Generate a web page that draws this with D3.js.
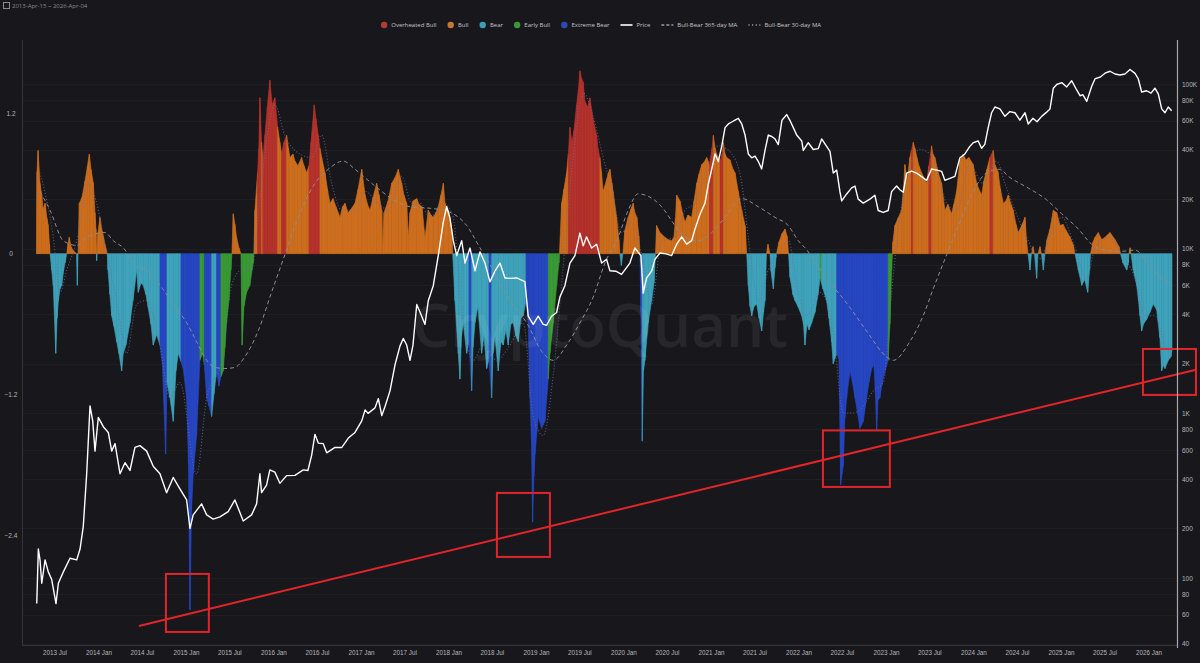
<!DOCTYPE html>
<html><head><meta charset="utf-8">
<script src="https://cdn.jsdelivr.net/npm/d3@7"></script>
<style>
html,body{margin:0;padding:0;background:#18181c;}
svg{display:block;font-family:"Open Sans","Noto Sans",sans-serif;}
</style></head><body>
<svg id="chart" width="1200" height="663"></svg>
<script>
// ---------- DATA ----------
const dateRangeLabel = "2013-Apr-15 ~ 2026-Apr-04";
const regimes = [
  {code:"O", name:"Overheated Bull"},
  {code:"B", name:"Bull"},
  {code:"R", name:"Bear"},
  {code:"E", name:"Early Bull"},
  {code:"X", name:"Extreme Bear"}
];
const lineSeriesNames = ["Price","Bull-Bear 365-day MA","Bull-Bear 30-day MA"];
const leftTicks = [1.2, 0, -1.2, -2.4];
const rightTicks = [100000,80000,60000,40000,20000,10000,8000,6000,4000,2000,1000,800,600,400,200,100,80,60,40];

// Bull-Bear index: [decimal year, value, regime]
const bullBearIndex = [
[2013.291,0,"B"],[2013.297,0.70,"B"],[2013.309,0.88,"B"],[2013.331,0.60,"B"],[2013.351,0.50,"B"],[2013.366,0.38,"B"],[2013.389,0.43,"B"],[2013.411,0.30,"B"],[2013.423,0.25,"B"],[2013.440,0.08,"B"],[2013.446,0,"B"],
[2013.465,-0.14,"R"],[2013.483,-0.27,"R"],[2013.511,-0.85,"R"],[2013.526,-0.55,"R"],[2013.541,-0.40,"R"],[2013.560,-0.30,"R"],[2013.579,-0.27,"R"],[2013.600,-0.15,"R"],[2013.617,-0.08,"R"],[2013.637,0,"R"],
[2013.651,0.08,"B"],[2013.666,0.14,"B"],[2013.686,0.06,"B"],[2013.709,0.03,"B"],[2013.749,0,"B"],
[2013.758,-0.27,"R"],[2013.766,0,"R"],
[2013.781,0.43,"B"],[2013.811,0.48,"B"],[2013.846,0.62,"B"],[2013.874,0.75,"B"],[2013.895,0.85,"B"],[2013.914,0.72,"B"],[2013.941,0.60,"B"],[2013.960,0.35,"B"],[2013.971,0.21,"B"],[2013.977,0,"B"],
[2013.979,-0.06,"R"],[2013.983,0,"R"],
[2013.994,0.18,"B"],[2014.017,0.31,"B"],[2014.034,0.22,"B"],[2014.055,0.15,"B"],[2014.074,0.08,"B"],[2014.101,0,"B"],
[2014.109,-0.14,"R"],[2014.131,-0.35,"R"],[2014.151,-0.53,"R"],[2014.177,-0.62,"R"],[2014.208,-0.75,"R"],[2014.234,-0.85,"R"],[2014.265,-1.00,"R"],[2014.283,-0.85,"R"],[2014.314,-0.78,"R"],[2014.360,-0.59,"R"],[2014.394,-0.40,"R"],[2014.437,-0.14,"R"],[2014.455,-0.33,"R"],[2014.486,-0.25,"R"],[2014.512,-0.27,"R"],[2014.543,-0.35,"R"],[2014.569,-0.46,"R"],[2014.600,-0.60,"R"],[2014.626,-0.78,"R"],[2014.665,-0.69,"R"],[2014.703,-0.78,"R"],
[2014.731,-0.95,"X"],[2014.768,-1.71,"X"],[2014.783,-1.10,"X"],
[2014.817,-1.23,"R"],[2014.855,-1.43,"R"],[2014.886,-1.00,"R"],[2014.912,-0.85,"R"],[2014.943,-0.92,"R"],
[2014.969,-0.98,"X"],[2015.008,-1.23,"X"],[2015.029,-1.80,"X"],[2015.046,-3.04,"X"],[2015.063,-2.20,"X"],[2015.083,-1.88,"X"],[2015.122,-1.55,"X"],[2015.160,-0.91,"X"],
[2015.191,-0.85,"E"],[2015.211,-0.95,"E"],
[2015.237,-1.23,"X"],[2015.263,-1.30,"X"],[2015.294,-1.39,"X"],
[2015.320,-1.20,"R"],[2015.351,-1.00,"R"],
[2015.377,-1.13,"X"],[2015.400,-1.05,"X"],
[2015.426,-1.00,"E"],[2015.446,-0.80,"E"],[2015.465,-0.59,"E"],[2015.491,-0.40,"E"],[2015.514,-0.14,"E"],[2015.526,0,"E"],
[2015.541,0.34,"B"],[2015.560,0.25,"B"],[2015.579,0.14,"B"],[2015.606,0.05,"B"],[2015.629,0,"B"],
[2015.643,-0.78,"E"],[2015.663,-0.45,"E"],[2015.694,-0.33,"E"],[2015.731,-0.27,"E"],[2015.769,-0.08,"E"],[2015.777,0,"E"],
[2015.789,0.37,"B"],[2015.819,0.69,"B"],[2015.834,0.90,"O"],[2015.846,1.33,"O"],[2015.865,0.95,"O"],[2015.880,0.80,"B"],[2015.903,1.01,"O"],[2015.931,1.25,"O"],[2015.960,1.48,"O"],[2015.986,1.27,"O"],[2016.017,1.33,"O"],[2016.048,1.08,"O"],[2016.074,0.95,"B"],[2016.094,0.85,"B"],[2016.120,0.95,"O"],[2016.151,1.01,"O"],[2016.171,0.90,"B"],[2016.189,0.82,"B"],[2016.223,0.85,"B"],[2016.246,0.79,"B"],[2016.280,0.75,"B"],[2016.322,0.82,"B"],[2016.349,0.75,"B"],[2016.379,0.69,"B"],[2016.406,0.75,"B"],[2016.429,0.95,"O"],[2016.466,1.27,"O"],[2016.486,1.15,"O"],[2016.512,1.01,"O"],[2016.531,0.90,"O"],[2016.551,0.82,"B"],[2016.589,0.69,"B"],[2016.617,0.55,"B"],[2016.646,0.43,"B"],[2016.680,0.47,"B"],[2016.714,0.40,"B"],[2016.760,0.31,"B"],[2016.789,0.40,"B"],[2016.817,0.43,"B"],[2016.851,0.35,"B"],[2016.886,0.38,"B"],[2016.931,0.43,"B"],[2016.966,0.55,"B"],
[2017.008,0.72,"B"],[2017.046,0.50,"B"],[2017.074,0.42,"B"],[2017.103,0.37,"B"],[2017.137,0.48,"B"],[2017.179,0.60,"B"],[2017.206,0.50,"B"],[2017.237,0.37,"B"],[2017.248,0.02,"B"],[2017.263,0.35,"B"],[2017.309,0.45,"B"],[2017.351,0.60,"B"],[2017.389,0.65,"B"],[2017.426,0.72,"B"],[2017.465,0.60,"B"],[2017.491,0.50,"B"],[2017.522,0.43,"B"],[2017.541,0.14,"B"],[2017.560,0.35,"B"],[2017.594,0.45,"B"],[2017.637,0.47,"B"],[2017.663,0.42,"B"],[2017.697,0.40,"B"],[2017.731,0.14,"B"],[2017.769,0.37,"B"],[2017.800,0.33,"B"],[2017.826,0.31,"B"],[2017.857,0.35,"B"],[2017.883,0.40,"B"],[2017.914,0.50,"B"],[2017.941,0.60,"B"],[2017.960,0.43,"B"],[2017.998,0.37,"B"],[2018.037,0.21,"B"],[2018.048,0,"B"],
[2018.074,-0.40,"R"],[2018.112,-0.85,"R"],[2018.131,-1.07,"R"],[2018.149,-0.70,"R"],[2018.169,-0.59,"R"],[2018.208,-0.85,"R"],[2018.234,-0.75,"R"],[2018.265,-1.17,"X"],[2018.280,-0.80,"R"],[2018.303,-0.59,"R"],[2018.337,-0.45,"R"],[2018.379,-0.85,"R"],[2018.406,-0.70,"R"],[2018.437,-0.98,"R"],[2018.463,-0.90,"R"],[2018.494,-1.23,"X"],[2018.509,-0.85,"R"],[2018.531,-0.70,"R"],[2018.569,-1.00,"R"],[2018.600,-0.75,"R"],[2018.626,-0.78,"R"],[2018.657,-0.65,"R"],[2018.683,-0.78,"R"],[2018.714,-0.60,"R"],[2018.741,-0.59,"R"],[2018.771,-0.70,"R"],[2018.798,-0.75,"R"],[2018.829,-0.55,"R"],[2018.855,-0.53,"R"],[2018.886,-0.40,"R"],
[2018.897,-0.45,"X"],[2018.912,-0.59,"X"],[2018.931,-1.23,"X"],[2018.949,-1.60,"X"],[2018.962,-2.29,"X"],[2018.977,-1.90,"X"],[2018.989,-1.71,"X"],[2019.026,-1.39,"X"],[2019.065,-1.49,"X"],[2019.103,-1.43,"X"],[2019.141,-1.07,"X"],
[2019.154,-0.90,"E"],[2019.160,-0.85,"E"],[2019.198,-0.59,"E"],[2019.237,-0.27,"E"],[2019.263,-0.08,"E"],[2019.269,0,"E"],
[2019.294,0.43,"B"],[2019.320,0.55,"B"],[2019.351,0.69,"B"],[2019.371,0.85,"B"],[2019.389,1.08,"O"],[2019.411,0.95,"O"],[2019.434,1.05,"O"],[2019.465,1.27,"O"],[2019.486,1.40,"O"],[2019.503,1.56,"O"],[2019.520,1.50,"O"],[2019.541,1.46,"O"],[2019.560,1.30,"O"],[2019.579,1.27,"O"],[2019.594,1.25,"O"],[2019.617,1.33,"O"],[2019.655,1.14,"O"],[2019.694,1.01,"O"],[2019.709,0.90,"O"],[2019.731,0.82,"O"],[2019.749,0.70,"B"],[2019.769,0.53,"B"],[2019.808,0.63,"B"],[2019.829,0.69,"B"],[2019.846,0.72,"B"],[2019.869,0.60,"B"],[2019.883,0.53,"B"],[2019.922,0.31,"B"],[2019.949,0.12,"B"],[2019.960,0,"B"],
[2019.977,-0.10,"R"],[2019.994,0,"R"],
[2020.017,0.20,"B"],[2020.055,0.31,"B"],[2020.086,0.38,"B"],[2020.112,0.43,"B"],[2020.131,0.35,"B"],[2020.154,0.31,"B"],[2020.177,0.15,"B"],[2020.189,0,"B"],
[2020.200,-0.50,"X"],[2020.215,-1.60,"X"],[2020.229,-1.00,"R"],[2020.246,-0.91,"R"],[2020.283,-0.59,"R"],[2020.322,-0.40,"R"],[2020.349,-0.25,"R"],[2020.366,0,"R"],
[2020.379,0.24,"B"],[2020.417,0.18,"B"],[2020.474,0.14,"B"],[2020.509,0.12,"B"],[2020.551,0.11,"B"],[2020.577,0.14,"B"],[2020.594,0.30,"B"],[2020.608,0.50,"B"],[2020.646,0.45,"B"],[2020.674,0.35,"B"],[2020.703,0.27,"B"],[2020.737,0.33,"B"],[2020.779,0.31,"B"],[2020.806,0.45,"B"],[2020.837,0.60,"B"],[2020.863,0.68,"B"],[2020.894,0.76,"B"],[2020.920,0.78,"B"],[2020.951,0.82,"B"],[2020.983,0.76,"B"],
[2021.011,0.90,"O"],[2021.026,1.01,"O"],[2021.046,0.90,"B"],[2021.065,0.85,"B"],[2021.103,0.79,"B"],[2021.126,0.85,"O"],[2021.141,0.95,"O"],[2021.160,0.85,"B"],[2021.179,0.82,"B"],[2021.217,0.80,"B"],[2021.251,0.72,"B"],[2021.274,0.69,"B"],[2021.312,0.53,"B"],[2021.351,0.37,"B"],[2021.389,0.24,"B"],[2021.408,0,"B"],
[2021.426,-0.27,"R"],[2021.446,-0.45,"R"],[2021.465,-0.53,"R"],[2021.491,-0.45,"R"],[2021.522,-0.43,"R"],[2021.549,-0.55,"R"],[2021.579,-0.66,"R"],[2021.600,-0.50,"R"],[2021.617,-0.40,"R"],[2021.634,0,"R"],
[2021.651,0.08,"B"],[2021.674,0,"B"],
[2021.686,-0.15,"R"],[2021.712,-0.30,"R"],[2021.731,-0.12,"R"],[2021.749,0,"R"],
[2021.777,0.10,"B"],[2021.811,0.17,"B"],[2021.846,0.21,"B"],[2021.869,0.15,"B"],[2021.886,0,"B"],
[2021.903,-0.20,"R"],[2021.937,-0.35,"R"],[2021.960,-0.40,"R"],[2021.994,-0.45,"R"],[2022.037,-0.53,"R"],[2022.057,-0.60,"R"],[2022.074,-0.78,"R"],[2022.097,-0.60,"R"],[2022.120,-0.65,"R"],[2022.151,-0.59,"R"],[2022.189,-0.50,"R"],[2022.223,-0.35,"R"],[2022.246,-0.21,"R"],[2022.263,-0.25,"E"],[2022.280,-0.30,"R"],[2022.322,-0.40,"R"],[2022.349,-0.55,"R"],[2022.379,-0.75,"R"],[2022.398,-0.94,"R"],[2022.437,-0.85,"R"],
[2022.463,-0.90,"X"],[2022.482,-1.97,"X"],[2022.512,-1.81,"X"],[2022.531,-1.40,"X"],[2022.551,-1.23,"X"],[2022.589,-1.00,"X"],[2022.617,-1.10,"X"],[2022.646,-1.23,"X"],[2022.674,-1.35,"X"],[2022.703,-1.49,"X"],[2022.741,-1.43,"X"],[2022.779,-1.23,"X"],[2022.806,-1.10,"X"],[2022.837,-0.98,"X"],[2022.863,-0.95,"X"],[2022.880,-1.20,"X"],[2022.894,-1.51,"X"],[2022.909,-1.25,"X"],[2022.931,-1.23,"X"],[2022.960,-1.10,"X"],[2022.989,-1.00,"X"],[2023.026,-0.91,"X"],
[2023.046,-0.60,"E"],[2023.065,-0.14,"E"],[2023.074,0,"E"],
[2023.080,0.10,"B"],[2023.103,0.24,"B"],[2023.137,0.30,"B"],[2023.179,0.37,"B"],[2023.200,0.55,"B"],[2023.217,0.76,"B"],[2023.243,0.63,"B"],[2023.274,0.82,"B"],[2023.291,0.88,"B"],[2023.312,0.95,"O"],[2023.331,0.90,"B"],[2023.354,0.82,"B"],[2023.377,0.75,"B"],[2023.408,0.69,"B"],[2023.434,0.65,"B"],[2023.465,0.60,"B"],[2023.491,0.75,"B"],[2023.522,0.92,"O"],[2023.537,0.85,"B"],[2023.560,0.82,"B"],[2023.598,0.69,"B"],[2023.637,0.60,"B"],[2023.674,0.37,"B"],[2023.709,0.42,"B"],[2023.751,0.34,"B"],[2023.777,0.42,"B"],[2023.808,0.53,"B"],[2023.846,0.79,"B"],[2023.883,0.85,"B"],[2023.914,0.80,"B"],[2023.949,0.82,"B"],[2023.998,0.76,"B"],
[2024.037,0.60,"B"],[2024.063,0.55,"B"],[2024.094,0.50,"B"],[2024.120,0.62,"B"],[2024.154,0.72,"B"],[2024.189,0.82,"B"],[2024.226,0.88,"O"],[2024.246,0.76,"B"],[2024.280,0.70,"B"],[2024.309,0.55,"B"],[2024.341,0.43,"B"],[2024.371,0.45,"B"],[2024.398,0.50,"B"],[2024.429,0.42,"B"],[2024.455,0.37,"B"],[2024.486,0.25,"B"],[2024.512,0.18,"B"],[2024.551,0.24,"B"],[2024.589,0.31,"B"],[2024.606,0.12,"B"],[2024.623,0,"B"],
[2024.646,-0.14,"R"],[2024.663,0,"R"],[2024.680,0.06,"B"],[2024.697,0,"B"],[2024.722,-0.21,"R"],[2024.737,0,"R"],[2024.760,0.06,"B"],[2024.777,0,"B"],[2024.798,-0.14,"R"],[2024.817,0,"R"],
[2024.840,0.12,"B"],[2024.874,0.21,"B"],[2024.912,0.37,"B"],[2024.951,0.35,"B"],[2024.989,0.24,"B"],[2025.023,0.25,"B"],[2025.057,0.20,"B"],[2025.103,0.14,"B"],[2025.137,0.08,"B"],[2025.160,0,"B"],
[2025.198,-0.14,"R"],[2025.237,-0.27,"R"],[2025.271,-0.22,"R"],[2025.305,-0.33,"R"],[2025.326,-0.14,"R"],[2025.337,0,"R"],
[2025.366,0.10,"B"],[2025.389,0.14,"B"],[2025.426,0.18,"B"],[2025.465,0.12,"B"],[2025.503,0.14,"B"],[2025.560,0.18,"B"],[2025.617,0.12,"B"],[2025.663,0.06,"B"],[2025.680,0,"B"],
[2025.709,-0.08,"R"],[2025.751,-0.14,"R"],[2025.771,-0.08,"R"],[2025.777,0,"R"],[2025.789,0.05,"B"],[2025.800,0,"B"],
[2025.826,-0.14,"R"],[2025.865,-0.27,"R"],[2025.886,-0.40,"R"],[2025.903,-0.53,"R"],[2025.922,-0.66,"R"],[2025.943,-0.60,"R"],[2025.979,-0.56,"R"],[2026.017,-0.50,"R"],[2026.055,-0.43,"R"],[2026.094,-0.48,"R"],[2026.131,-0.72,"R"],[2026.151,-1.00,"R"],[2026.171,-0.95,"R"],[2026.189,-0.98,"R"],[2026.226,-0.91,"R"],[2026.257,-0.88,"R"],[2026.269,-0.82,"R"]
];

// BTC price (USD): [decimal year, price]
const btcPrice = [
[2013.294,70],[2013.312,150],[2013.331,129],[2013.351,93],[2013.389,129],[2013.426,109],[2013.465,98],[2013.514,70],[2013.541,93],[2013.598,109],[2013.674,132],[2013.751,129],[2013.789,150],[2013.826,206],[2013.865,430],[2013.903,1110],[2013.934,900],[2013.960,590],[2013.998,946],[2014.055,830],[2014.112,766],[2014.151,590],[2014.189,655],[2014.246,430],[2014.303,502],[2014.360,450],[2014.417,621],[2014.474,637],[2014.551,590],[2014.626,478],[2014.703,430],[2014.779,330],[2014.855,408],[2014.931,348],[2015.008,298],[2015.046,200],[2015.083,242],[2015.179,282],[2015.237,242],[2015.312,228],[2015.389,235],[2015.483,253],[2015.560,298],[2015.598,265],[2015.655,222],[2015.751,242],[2015.808,282],[2015.846,430],[2015.865,330],[2015.922,367],[2015.960,454],[2016.017,440],[2016.074,376],[2016.151,419],[2016.246,420],[2016.341,454],[2016.394,450],[2016.437,558],[2016.474,746],[2016.512,660],[2016.569,655],[2016.608,576],[2016.703,621],[2016.779,620],[2016.855,708],[2016.931,766],[2017.008,900],[2017.046,1050],[2017.080,1000],[2017.160,1080],[2017.198,1230],[2017.237,970],[2017.274,1100],[2017.331,1370],[2017.389,1980],[2017.446,2570],[2017.483,2850],[2017.522,2600],[2017.560,2100],[2017.594,2600],[2017.637,4580],[2017.694,3890],[2017.731,3470],[2017.769,4830],[2017.826,5960],[2017.883,9080],[2017.941,14550],[2017.979,17980],[2018.017,15350],[2018.055,11190],[2018.094,9080],[2018.151,11190],[2018.189,8180],[2018.246,10090],[2018.303,7340],[2018.360,9560],[2018.417,8200],[2018.474,6300],[2018.531,7300],[2018.589,8180],[2018.646,6640],[2018.703,6600],[2018.779,6640],[2018.874,6300],[2018.912,3890],[2018.969,3470],[2019.026,3890],[2019.083,3470],[2019.122,3430],[2019.179,3890],[2019.237,4100],[2019.274,5090],[2019.331,5960],[2019.389,8180],[2019.446,9080],[2019.503,12440],[2019.541,10400],[2019.579,11800],[2019.637,10090],[2019.694,10650],[2019.751,8180],[2019.808,8610],[2019.846,7340],[2019.914,7300],[2019.979,6980],[2020.074,8180],[2020.131,10090],[2020.200,9080],[2020.226,5370],[2020.265,6640],[2020.322,7300],[2020.360,8610],[2020.417,9420],[2020.486,9300],[2020.551,9080],[2020.608,10650],[2020.665,11800],[2020.722,10650],[2020.779,11190],[2020.817,13180],[2020.874,16180],[2020.931,18920],[2020.969,24700],[2021.008,30480],[2021.046,37590],[2021.083,33800],[2021.122,41790],[2021.160,54340],[2021.198,57200],[2021.237,58800],[2021.274,60320],[2021.312,61880],[2021.351,57200],[2021.389,49000],[2021.426,37590],[2021.465,35650],[2021.503,36500],[2021.541,33800],[2021.579,30480],[2021.617,39500],[2021.655,49000],[2021.694,48000],[2021.731,46400],[2021.769,42900],[2021.811,60300],[2021.865,65200],[2021.903,60000],[2021.941,54340],[2021.979,49000],[2022.037,45100],[2022.055,39500],[2022.112,44000],[2022.169,40000],[2022.226,40500],[2022.265,46400],[2022.322,41790],[2022.360,39000],[2022.398,28800],[2022.437,30000],[2022.474,22200],[2022.494,19500],[2022.551,21500],[2022.608,23400],[2022.646,24000],[2022.683,20000],[2022.741,18920],[2022.817,20000],[2022.874,21100],[2022.912,17060],[2022.969,16600],[2023.026,17060],[2023.065,22200],[2023.122,24000],[2023.160,22800],[2023.198,22000],[2023.237,28800],[2023.294,29600],[2023.351,28800],[2023.408,27400],[2023.465,26000],[2023.522,30480],[2023.583,30000],[2023.637,29500],[2023.674,26000],[2023.731,26700],[2023.789,27500],[2023.846,35650],[2023.903,37590],[2023.960,41790],[2023.998,44000],[2024.055,45100],[2024.094,40700],[2024.131,43000],[2024.169,54340],[2024.208,66900],[2024.246,72500],[2024.303,70600],[2024.360,63600],[2024.417,68000],[2024.474,66900],[2024.531,60300],[2024.589,66900],[2024.626,57200],[2024.680,62000],[2024.726,59000],[2024.779,63600],[2024.829,67000],[2024.874,70600],[2024.912,94300],[2024.951,99300],[2025.008,101900],[2025.065,96000],[2025.122,104700],[2025.179,92000],[2025.217,84900],[2025.251,86000],[2025.294,78400],[2025.351,96800],[2025.389,107600],[2025.446,110000],[2025.503,116300],[2025.560,119500],[2025.617,115000],[2025.674,113500],[2025.731,115000],[2025.789,122600],[2025.846,116000],[2025.883,107600],[2025.922,89400],[2025.979,91000],[2026.029,88000],[2026.074,94300],[2026.112,87100],[2026.151,70600],[2026.189,66900],[2026.226,72500],[2026.265,68800]
];

// Bull-Bear 365-day MA: [decimal year, value]
const ma365 = [
[2013.331,0.53],[2013.446,0.37],[2013.598,0.11],[2013.751,0.07],[2013.865,0.14],[2014.074,0.18],[2014.170,0.11],[2014.283,0.05],[2014.437,-0.11],[2014.551,-0.14],[2014.703,-0.27],[2014.855,-0.43],[2015.008,-0.59],[2015.122,-0.75],[2015.237,-0.91],[2015.331,-0.97],[2015.446,-0.98],[2015.560,-0.97],[2015.674,-0.88],[2015.826,-0.66],[2015.979,-0.33],[2016.131,-0.01],[2016.283,0.31],[2016.474,0.60],[2016.626,0.72],[2016.797,0.79],[2016.931,0.72],[2017.122,0.60],[2017.351,0.47],[2017.560,0.40],[2017.751,0.39],[2017.941,0.37],[2018.055,0.34],[2018.208,0.24],[2018.360,0.05],[2018.512,-0.14],[2018.703,-0.40],[2018.894,-0.59],[2019.083,-0.85],[2019.198,-0.91],[2019.351,-0.78],[2019.503,-0.59],[2019.655,-0.37],[2019.789,-0.08],[2019.941,0.14],[2020.055,0.37],[2020.169,0.51],[2020.283,0.49],[2020.437,0.40],[2020.589,0.24],[2020.703,0.14],[2020.855,0.11],[2021.008,0.18],[2021.160,0.31],[2021.351,0.47],[2021.541,0.40],[2021.731,0.31],[2021.883,0.24],[2021.998,0.11],[2022.074,0.05],[2022.283,-0.17],[2022.589,-0.46],[2022.779,-0.66],[2023.008,-0.88],[2023.083,-0.91],[2023.274,-0.75],[2023.426,-0.53],[2023.541,-0.30],[2023.694,-0.01],[2023.846,0.27],[2023.998,0.53],[2024.151,0.69],[2024.303,0.72],[2024.398,0.66],[2024.626,0.56],[2024.817,0.47],[2025.008,0.34],[2025.198,0.21],[2025.351,0.08],[2025.503,0.03],[2025.694,0.02],[2025.846,0.03],[2025.998,-0.08],[2026.151,-0.21],[2026.265,-0.27]
];

// Bull-Bear 30-day MA: [decimal year, value]
const ma30 = [
[2013.331,0.69],[2013.483,0.14],[2013.560,-0.33],[2013.637,-0.14],[2013.751,0.11],[2013.884,0.60],[2013.979,0.43],[2014.074,0.08],[2014.208,-0.40],[2014.322,-0.85],[2014.437,-0.43],[2014.551,-0.40],[2014.703,-0.78],[2014.817,-1.23],[2014.931,-1.10],[2015.122,-1.88],[2015.237,-1.23],[2015.408,-0.91],[2015.522,-0.27],[2015.637,-0.14],[2015.751,-0.14],[2015.826,0.31],[2015.903,0.85],[2016.017,1.27],[2016.131,1.01],[2016.246,0.88],[2016.437,0.82],[2016.551,1.01],[2016.665,0.60],[2016.779,0.37],[2016.931,0.37],[2017.046,0.53],[2017.198,0.43],[2017.312,0.37],[2017.465,0.66],[2017.579,0.43],[2017.674,0.43],[2017.789,0.31],[2017.941,0.43],[2018.055,0.31],[2018.131,-0.33],[2018.283,-0.91],[2018.398,-0.78],[2018.551,-0.91],[2018.703,-0.78],[2018.855,-0.59],[2018.969,-1.39],[2019.083,-1.55],[2019.198,-1.04],[2019.312,-0.11],[2019.426,0.82],[2019.541,1.37],[2019.655,1.17],[2019.769,0.82],[2019.865,0.56],[2019.979,0.18],[2020.094,0.27],[2020.208,-0.01],[2020.322,-0.43],[2020.437,0.11],[2020.589,0.14],[2020.703,0.37],[2020.817,0.43],[2020.931,0.69],[2021.083,0.92],[2021.237,0.85],[2021.351,0.60],[2021.426,0.14],[2021.541,-0.40],[2021.655,-0.14],[2021.769,0.00],[2021.883,0.11],[2021.998,-0.33],[2022.094,-0.53],[2022.246,-0.33],[2022.398,-0.66],[2022.512,-1.36],[2022.626,-1.36],[2022.741,-1.30],[2022.855,-1.17],[2022.969,-1.10],[2023.065,-0.33],[2023.141,0.21],[2023.237,0.63],[2023.389,0.89],[2023.541,0.82],[2023.694,0.43],[2023.808,0.37],[2023.960,0.76],[2024.112,0.60],[2024.265,0.79],[2024.360,0.60],[2024.474,0.37],[2024.626,0.11],[2024.741,-0.05],[2024.894,0.18],[2025.008,0.31],[2025.160,0.05],[2025.294,-0.21],[2025.389,0.05],[2025.541,0.14],[2025.694,-0.01],[2025.846,-0.21],[2025.960,-0.53],[2026.074,-0.53],[2026.189,-0.78],[2026.269,-0.85]
];

// Annotation (red) trend line and highlight boxes, in data units: [year, index value]
const trendLine = [[2014.462,-3.176],[2026.531,-0.992]];
const highlightBoxes = [
  [2014.771,2015.262,-2.732,-3.227],
  [2018.554,2019.160,-2.041,-2.587],
  [2022.280,2023.045,-1.508,-1.990],
  [2025.937,2026.543,-0.813,-1.205]
];

// ---------- RENDER ----------
const W = 1200, H = 663;
const colors = {O:"#b5332c", B:"#cd6e1e", R:"#3fa3bb", E:"#3a9a35", X:"#2646c2"};
const legendDot = {O:"#b53a33", B:"#c8772f", R:"#3a9fb6", E:"#3a983a", X:"#2d49b6"};
const bg = "#18181c";

function yr2date(y){
  const Y = Math.floor(y);
  const s = Date.UTC(Y,0,1), e = Date.UTC(Y+1,0,1);
  return new Date(s + (y - Y) * (e - s));
}

const svg = d3.select("#chart");
svg.append("rect").attr("width",W).attr("height",H).attr("fill",bg);

const plot = {left:22, right:1177, top:40, bottom:645};

const x = d3.scaleUtc().domain([yr2date(2013.291), yr2date(2026.269)]).range([36.5, 1172]);
const yL = d3.scaleLinear().domain([1.2, -2.4]).range([113, 535]);
const yR = d3.scaleLog().domain([100000, 40]).range([84, 643.6]);

// grid lines (faint)
const grid = svg.append("g");
grid.selectAll("line.gr").data(rightTicks).join("line")
  .attr("x1", plot.left).attr("x2", plot.right)
  .attr("y1", d => Math.round(yR(d))+0.5).attr("y2", d => Math.round(yR(d))+0.5)
  .attr("stroke", "#1e1e23").attr("stroke-width", 1);

// frame
svg.append("line").attr("x1",plot.left+0.5).attr("x2",plot.left+0.5).attr("y1",plot.top).attr("y2",plot.bottom).attr("stroke","#34343a");
svg.append("line").attr("x1",plot.left).attr("x2",plot.right).attr("y1",plot.bottom+0.5).attr("y2",plot.bottom+0.5).attr("stroke","#34343a");

// clip
svg.append("defs").append("clipPath").attr("id","clip")
  .append("rect").attr("x",plot.left).attr("y",plot.top).attr("width",plot.right-plot.left).attr("height",plot.bottom-plot.top);

const body = svg.append("g").attr("clip-path","url(#clip)");

// index bars (as filled segments between consecutive samples)
const y0 = yL(0);
const segs = [];
for (let i = 0; i < bullBearIndex.length - 1; i++) {
  segs.push([bullBearIndex[i], bullBearIndex[i+1]]);
}
const seg = d3.area()
  .x(d => x(yr2date(d[0])))
  .y0(y0)
  .y1(d => yL(d[1]));
body.append("g").selectAll("path").data(segs).join("path")
  .attr("d", d => seg(d))
  .attr("fill", d => colors[d[1][2]])
  .attr("stroke", d => colors[d[1][2]])
  .attr("stroke-width", 0.6)
  .attr("stroke-linejoin","round");

// watermark
svg.append("text").attr("x", 600).attr("y", 347).attr("text-anchor","middle")
  .attr("font-size", 60).attr("font-weight", 600)
  .attr("fill","rgba(255,255,255,0.065)").text("CryptoQuant");

// 365-day MA
const lineL = d3.line().x(d => x(yr2date(d[0]))).y(d => yL(d[1])).curve(d3.curveMonotoneX);
body.append("path").datum(ma365).attr("d", lineL)
  .attr("fill","none").attr("stroke","#8c8c92").attr("stroke-width",1)
  .attr("stroke-dasharray","4,3");
// 30-day MA
body.append("path").datum(ma30).attr("d", lineL)
  .attr("fill","none").attr("stroke","#6a70a8").attr("stroke-width",1.1)
  .attr("stroke-dasharray","1,2").attr("opacity",0.75);

// price
const lineP = d3.line().x(d => x(yr2date(d[0]))).y(d => yR(d[1]));
body.append("path").datum(btcPrice).attr("d", lineP)
  .attr("fill","none").attr("stroke","#ffffff").attr("stroke-width",1.4)
  .attr("stroke-linejoin","round");

// annotations
const ann = svg.append("g");
ann.append("line")
  .attr("x1", x(yr2date(trendLine[0][0]))).attr("y1", yL(trendLine[0][1]))
  .attr("x2", x(yr2date(trendLine[1][0]))).attr("y2", yL(trendLine[1][1]))
  .attr("stroke","#e2252a").attr("stroke-width",2);
ann.selectAll("rect").data(highlightBoxes).join("rect")
  .attr("x", d => x(yr2date(d[0])))
  .attr("width", d => x(yr2date(d[1])) - x(yr2date(d[0])))
  .attr("y", d => yL(d[2]))
  .attr("height", d => yL(d[3]) - yL(d[2]))
  .attr("fill","none").attr("stroke","#e2252a").attr("stroke-width",2);

// right axis line
svg.append("line").attr("x1",plot.right+0.5).attr("x2",plot.right+0.5).attr("y1",plot.top).attr("y2",648).attr("stroke","#a8a8ae").attr("stroke-width",1.2);

// axes text
const axisColor = "#b4b4b8";
const fmtP = d => d >= 1000 ? (d/1000) + "K" : String(d);
const rAxis = svg.append("g").attr("transform",`translate(${plot.right+5},0)`)
  .call(d3.axisRight(yR).tickValues(rightTicks).tickFormat(fmtP).tickSize(0).tickPadding(0));
rAxis.select(".domain").remove();
rAxis.selectAll("text").attr("fill",axisColor).attr("font-size",6.5);

const lAxis = svg.append("g").attr("transform",`translate(11,0)`)
  .call(d3.axisLeft(yL).tickValues(leftTicks).tickFormat(d => d === 0 ? "0" : d3.format(".1f")(d)).tickSize(0).tickPadding(0));
lAxis.select(".domain").remove();
lAxis.selectAll("text").attr("fill",axisColor).attr("font-size",6.5).attr("text-anchor","middle");

const bAxis = svg.append("g").attr("transform",`translate(0,651)`)
  .call(d3.axisBottom(x).ticks(d3.utcMonth.every(6)).tickFormat(d3.utcFormat("%Y %b")).tickSize(0).tickPadding(0));
bAxis.select(".domain").remove();
bAxis.selectAll("text").attr("fill",axisColor).attr("font-size",6.3);

// top-left date range
const tl = svg.append("g");
tl.append("rect").attr("x",3.5).attr("y",2.5).attr("width",6).attr("height",6).attr("fill","none").attr("stroke","#8a8a90").attr("stroke-width",1);
tl.append("text").attr("x",12).attr("y",8).attr("font-size",6).attr("fill","#8a8a90").text(dateRangeLabel);

// legend
const legendItems = regimes.map(r => ({label:r.name, kind:"dot", code:r.code}))
  .concat([{label:lineSeriesNames[0], kind:"solid"},{label:lineSeriesNames[1], kind:"dash"},{label:lineSeriesNames[2], kind:"dot3"}]);
const lg = svg.append("g").attr("transform","translate(0,25)");
let cx = 0;
const items = [];
legendItems.forEach(it => {
  const g = lg.append("g");
  let symW;
  if (it.kind === "dot") {
    g.append("circle").attr("cx",3.2).attr("cy",0).attr("r",3.2).attr("fill",legendDot[it.code]);
    symW = 6.4;
  } else {
    const ln = g.append("line").attr("x1",0).attr("x2",12).attr("y1",0).attr("y2",0).attr("stroke-width",1.3);
    if (it.kind === "solid") ln.attr("stroke","#ffffff").attr("stroke-width",1.6);
    if (it.kind === "dash") ln.attr("stroke","#9a9aa0").attr("stroke-dasharray","3,2");
    if (it.kind === "dot3") ln.attr("stroke","#9a9aa0").attr("stroke-dasharray","1.2,2.4");
    symW = 12;
  }
  const t = g.append("text").attr("x",symW+4).attr("y",2.2).attr("font-size",6).attr("fill","#c4c4c8").text(it.label);
  const w = symW + 4 + t.node().getComputedTextLength();
  items.push({g, w});
});
const gap = 11;
const total = d3.sum(items, d => d.w) + gap * (items.length - 1);
cx = 601 - total / 2;
items.forEach(d => { d.g.attr("transform",`translate(${cx},0)`); cx += d.w + gap; });
</script>
</body></html>
